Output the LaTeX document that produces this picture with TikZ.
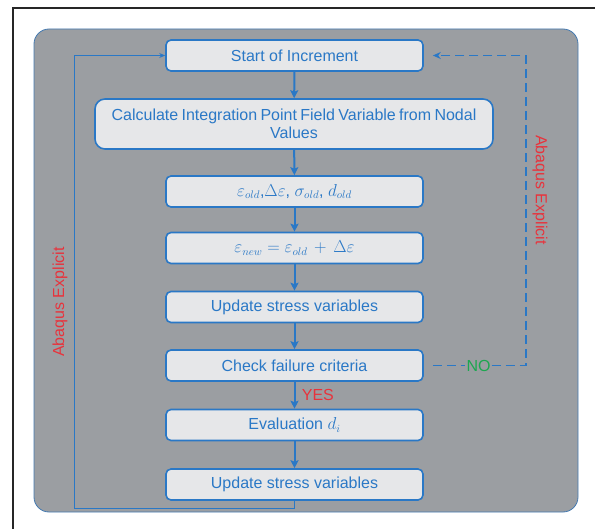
\documentclass[tikz,border=0pt]{standalone}
\usepackage{fontspec}
\setmainfont{Liberation Sans}
\newfontfamily\narrowsans{Liberation Sans}[WordSpace=0.75]
\usepackage{tikz}
\usetikzlibrary{arrows.meta, positioning, calc}

\definecolor{panelgray}{HTML}{9B9EA2}
\definecolor{boxfill}{HTML}{E6E7E9}
\definecolor{flowblue}{HTML}{2A78C6}
\definecolor{labelred}{HTML}{E8333C}
\definecolor{nogreen}{HTML}{1DA750}

\begin{document}
\begin{tikzpicture}[x=1pt, y=-1pt,
    stepbox/.style={rectangle, rounded corners=5pt, draw=flowblue, line width=1.6pt, fill=boxfill, minimum width=257pt, minimum height=31pt, align=center, text=flowblue, font=\fontsize{16}{18}\selectfont},
    flow/.style={draw=flowblue, line width=2pt, -{Stealth[length=8pt, width=8pt, inset=1.5pt]}},
    loopline/.style={draw=flowblue, line width=1pt, -{Stealth[length=6pt, width=5pt]}},
    dashline/.style={draw=flowblue, line width=1.4pt, dash pattern=on 9pt off 5pt},
    sidelabel/.style={font=\fontsize{16}{18}\selectfont, text=labelred}
]
\useasboundingbox (0,0) rectangle (595,529);

% Frame and panel
\draw[line width=2.5pt, black!85] (13,8) rectangle (640,570);
\draw[rounded corners=15pt, fill=panelgray, draw=flowblue!70!gray, line width=0.8pt] (34,29) rectangle (578,512);

% Boxes
\node[stepbox] (start) at (294.5,55.5) {Start of Increment};
\node[stepbox, rounded corners=10pt, minimum width=398pt, minimum height=50pt, font=\narrowsans\fontsize{16}{18}\selectfont] (calc) at (294,124) {Calculate Integration Point Field Variable from Nodal\\Values};
\node[stepbox] (epsold) at (294.5,191.5) {$\varepsilon_{old}$,$\Delta\varepsilon$, $\sigma_{old}$, $d_{old}$};
\node[stepbox] (epsnew) at (294.5,248) {$\varepsilon_{new} = \varepsilon_{old} \,+\, \Delta\varepsilon$};
\node[stepbox] (update) at (294.5,307) {Update stress variables};
\node[stepbox] (check) at (294.5,365.5) {Check failure criteria};
\node[stepbox] (eval) at (294.5,425) {Evaluation $d_i$};
\node[stepbox] (updatetwo) at (294.5,484.5) {Update stress variables};

% Main flow
\draw[flow] (start) -- (calc);
\draw[flow] (calc) -- (epsold);
\draw[flow] (epsold) -- (epsnew);
\draw[flow] (epsnew) -- (update);
\draw[flow] (update) -- (check);
\draw[flow] (check) -- node[right, text=labelred, font=\fontsize{16}{18}\selectfont, xshift=3pt] {YES} (eval);
\draw[flow] (eval) -- (updatetwo);

% Loop back (left)
\coordinate (loopleft) at (74,508);
\draw[loopline] (updatetwo) |- (loopleft) |- (start);
\node[sidelabel, rotate=90] (leftlabel) at (60,302) {Abaqus Explicit};

% Failure branch (right)
\node[text=nogreen, font=\fontsize{16}{18}\selectfont, inner sep=1pt] (no) at (478.5,365.5) {NO};
\coordinate (nocorner) at (526,365.5);
\draw[dashline, shorten <=9pt] (check) -- (no);
\draw[dashline, -{Stealth[length=8pt, width=7pt]}, shorten >=9pt] (no) -- (nocorner) |- (start);
\node[sidelabel, rotate=-90] (rightlabel) at (540,190) {Abaqus Explicit};

\end{tikzpicture}
\end{document}
